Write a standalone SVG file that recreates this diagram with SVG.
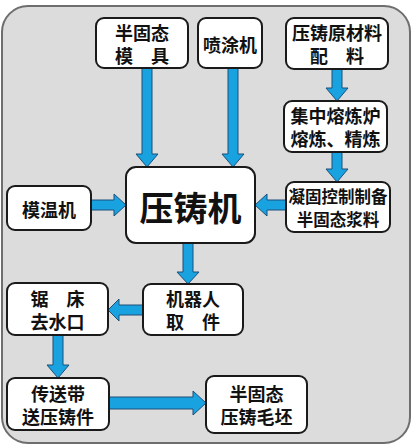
<svg xmlns="http://www.w3.org/2000/svg" width="414" height="445" viewBox="0 0 414 445">
<style>
.node rect{fill:#ffffff;stroke:#1a1a1a;stroke-width:2}
.node text{font-family:"Noto Sans CJK SC","Noto Sans",sans-serif;font-weight:bold;font-size:18px;fill:#111;text-anchor:middle;dominant-baseline:central}
.arr polygon{fill:#18a2e0;stroke:#1d4f7a;stroke-width:1;stroke-linejoin:miter}
</style>
<rect x="2" y="6" width="408" height="437" rx="26" fill="#dcdcdc" stroke="#6e6e6e" stroke-width="2"/>
<g id="connectors" class="arr">
<polygon points="142,68 152,68 152,154 158,154 147,167 136,154 142,154"/>
<polygon points="228,68 238,68 238,154 244,154 233,167 222,154 228,154"/>
<polygon points="332,69 342,69 342,88 348,88 337,101 326,88 332,88"/>
<polygon points="332,152 342,152 342,169 348,169 337,182 326,169 332,169"/>
<polygon points="91,200 114,200 114,194 126,205 114,216 114,210 91,210"/>
<polygon points="286,200 267,200 267,194 255,205 267,216 267,210 286,210"/>
<polygon points="183,243 193,243 193,272 199,272 188,284 177,272 183,272"/>
<polygon points="143,305 119,305 119,299 108,310 119,321 119,315 143,315"/>
<polygon points="53,335 63,335 63,365 69,365 58,378 47,365 53,365"/>
<polygon points="109,397 193,397 193,391 206,403 193,415 193,409 109,409"/>
</g>
<g id="mold" class="node"><rect x="96" y="18" width="92" height="50" rx="8"/><text x="142" y="31.5"><tspan x="142" y="31.5">半固态</tspan><tspan x="142" y="54.5">模　具</tspan></text></g>
<g id="spray" class="node"><rect x="198" y="18" width="64" height="50" rx="8"/><text x="230" y="44">喷涂机</text></g>
<g id="raw" class="node"><rect x="286" y="18" width="102" height="51" rx="8"/><text x="337" y="32"><tspan x="337" y="32">压铸原材料</tspan><tspan x="337" y="55">配　料</tspan></text></g>
<g id="melt" class="node"><rect x="284" y="101" width="103" height="51" rx="8"/><text x="335.5" y="115"><tspan x="335.5" y="115">集中熔炼炉</tspan><tspan x="335.5" y="138">熔炼、精炼</tspan></text></g>
<g id="diecast" class="node"><rect x="126" y="167" width="129" height="76" rx="10"/><text x="190.5" y="206" style="font-size:34px">压铸机</text></g>
<g id="moldtemp" class="node"><rect x="7" y="186" width="84" height="44" rx="8"/><text x="49" y="208.5">模温机</text></g>
<g id="slurry" class="node"><rect x="286" y="182" width="104" height="50" rx="8"/><text x="338" y="195.5" style="font-size:16.5px"><tspan x="338" y="195.5">凝固控制制备</tspan><tspan x="338" y="218.5">半固态浆料</tspan></text></g>
<g id="saw" class="node"><rect x="7" y="283" width="101" height="52" rx="8"/><text x="57.5" y="297.5"><tspan x="57.5" y="297.5">锯　床</tspan><tspan x="57.5" y="320.5">去水口</tspan></text></g>
<g id="robot" class="node"><rect x="143" y="284" width="100" height="51" rx="8"/><text x="193" y="298"><tspan x="193" y="298">机器人</tspan><tspan x="193" y="321">取　件</tspan></text></g>
<g id="conveyor" class="node"><rect x="7" y="378" width="102" height="52" rx="8"/><text x="58" y="392.5"><tspan x="58" y="392.5">传送带</tspan><tspan x="58" y="415.5">送压铸件</tspan></text></g>
<g id="blank" class="node"><rect x="206" y="376" width="101" height="57" rx="8"/><text x="256.5" y="393"><tspan x="256.5" y="393">半固态</tspan><tspan x="256.5" y="416">压铸毛坯</tspan></text></g>
</svg>
